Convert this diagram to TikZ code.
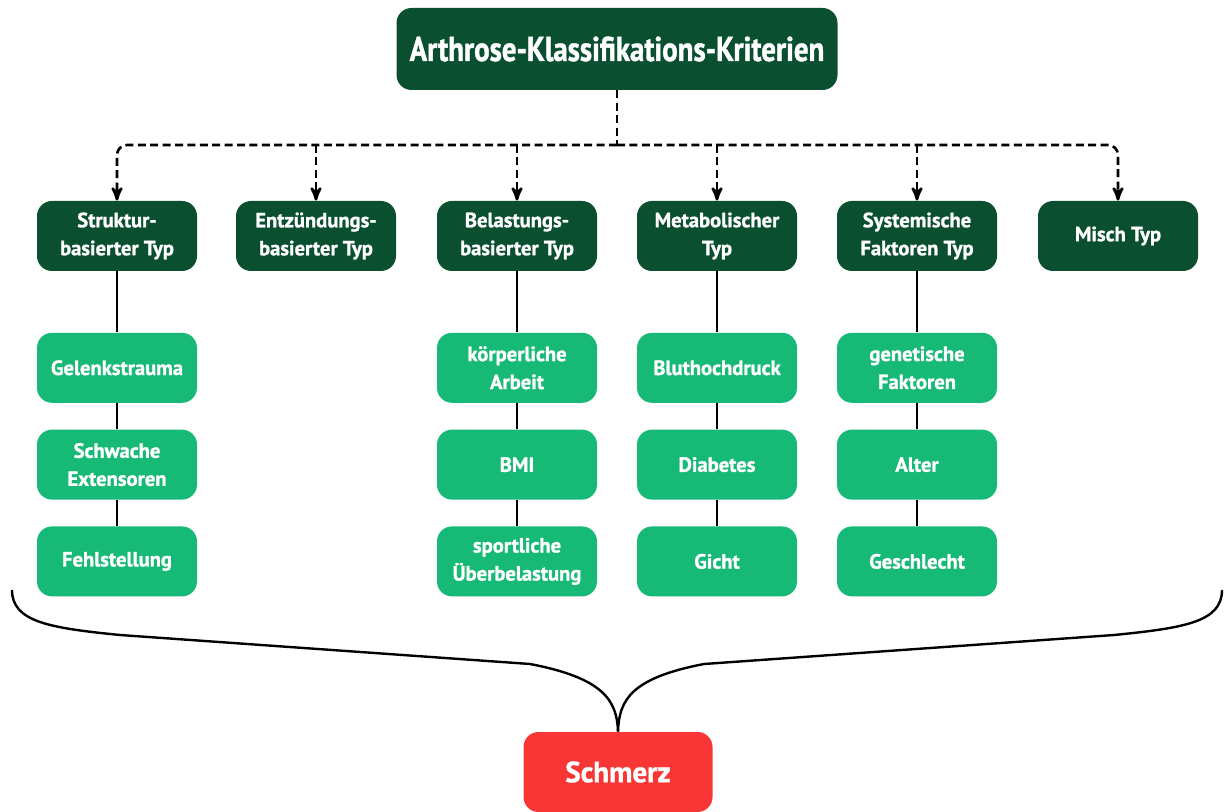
\documentclass[tikz,border=0pt]{standalone}
\usepackage{fontspec}
\setmainfont{PT Sans}[BoldFeatures={FakeBold=1.2}]
\newfontfamily\titlefont[FakeStretch=0.84,BoldFeatures={FakeBold=1.2}]{PT Sans}
\usepackage{tikz}
\usetikzlibrary{arrows,positioning}
\definecolor{dkgreen}{HTML}{0A4F30}
\definecolor{ltgreen}{HTML}{17B976}
\definecolor{painred}{HTML}{F93636}

\begin{document}
\begin{tikzpicture}[x=0.5pt,y=-0.5pt,>=stealth',
	typ/.style={rectangle,rounded corners=7.5pt,fill=dkgreen,text=white,align=center,
		minimum width=80pt,minimum height=35pt,inner sep=0pt,
		font=\bfseries\fontsize{10.3}{14}\selectfont},
	sub/.style={typ,fill=ltgreen},
	dashline/.style={line width=1.3pt,dash pattern=on 4pt off 2.2pt},
	solidline/.style={line width=1.3pt}]
		\useasboundingbox (0,0) rectangle (1225,812);

		% title and the six types
		\node[typ,minimum width=220.5pt,minimum height=41pt,
			font=\titlefont\bfseries\fontsize{17.2}{20}\selectfont] (top) at (617,49) {Arthrose-Klassifikations-Kriterien};
		\node[typ] (t1) at (117,236) {Struktur-\\basierter Typ};
		\node[typ] (t2) at (316,236) {Entzündungs-\\basierter Typ};
		\node[typ] (t3) at (517,236) {Belastungs-\\basierter Typ};
		\node[typ] (t4) at (717,236) {Metabolischer\\Typ};
		\node[typ] (t5) at (917,236) {Systemische\\Faktoren Typ};
		\node[typ] (t6) at (1118,236) {Misch Typ};

		% factors below the types
		\node[sub] (s11) [below=30.5pt of t1] {Gelenkstrauma};
		\node[sub] (s12) [below=13pt of s11] {Schwache\\Extensoren};
		\node[sub] (s13) [below=13pt of s12] {Fehlstellung};
		\node[sub] (s31) [below=30.5pt of t3] {körperliche\\Arbeit};
		\node[sub] (s32) [below=13pt of s31] {BMI};
		\node[sub] (s33) [below=13pt of s32] {sportliche\\Überbelastung};
		\node[sub] (s41) [below=30.5pt of t4] {Bluthochdruck};
		\node[sub] (s42) [below=13pt of s41] {Diabetes};
		\node[sub] (s43) [below=13pt of s42] {Gicht};
		\node[sub] (s51) [below=30.5pt of t5] {genetische\\Faktoren};
		\node[sub] (s52) [below=13pt of s51] {Alter};
		\node[sub] (s53) [below=13pt of s52] {Geschlecht};

		\node[typ,fill=painred,minimum width=94.5pt,minimum height=40pt,
			font=\bfseries\fontsize{14.5}{16}\selectfont] (pain) at (618,772) {Schmerz};

		% dashed tree
		\coordinate (j) at (617,145);
		\draw[dashline] (top.south) -- (j);
		\draw[dashline,->,rounded corners=5pt] (j) -| (t1.north);
		\draw[dashline,->,rounded corners=5pt] (j) -| (t6.north);
		\foreach \t in {t2,t3,t4,t5}
			\draw[dashline,->] (j -| \t.north) -- (\t.north);

		% solid chains
		\path[solidline]
		(t1) edge (s11) (s11) edge (s12) (s12) edge (s13)
		(t3) edge (s31) (s31) edge (s32) (s32) edge (s33)
		(t4) edge (s41) (s41) edge (s42) (s42) edge (s43)
		(t5) edge (s51) (s51) edge (s52) (s52) edge (s53)
		;

		% brace to Schmerz
		\coordinate (bl) at (12,590);
		\coordinate (br) at (1222,590);
		\draw[line width=1.2pt] (bl) .. controls (12,622) and (50,628) .. (120,635)
			-- (530,664) .. controls (603,678) and (617,700) .. (pain.north);
		\draw[line width=1.2pt] (br) .. controls (1222,622) and (1184,628) .. (1114,635)
			-- (704,664) .. controls (631,678) and (619,700) .. (pain.north);
	\end{tikzpicture}
\end{document}
